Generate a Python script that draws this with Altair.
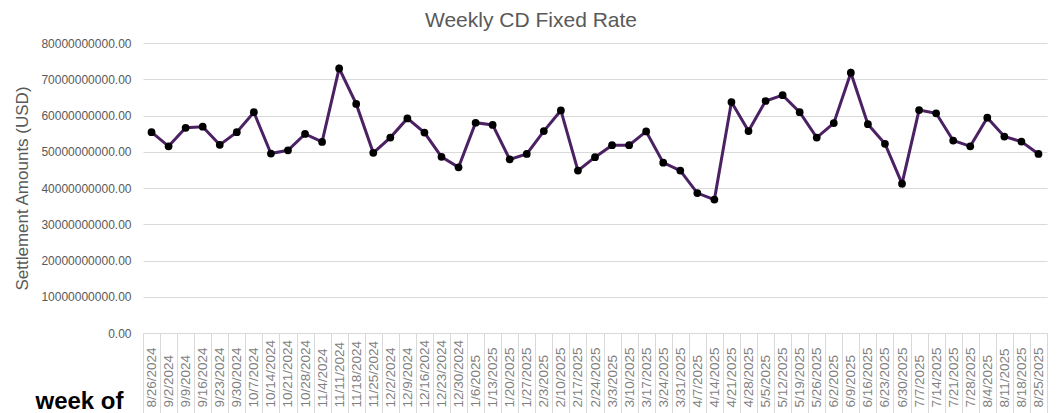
import altair as alt
import pandas as pd

chart_title = "Weekly CD Fixed Rate"

weeks = [
    "8/26/2024", "9/2/2024", "9/9/2024", "9/16/2024", "9/23/2024", "9/30/2024",
    "10/7/2024", "10/14/2024", "10/21/2024", "10/28/2024", "11/4/2024", "11/11/2024",
    "11/18/2024", "11/25/2024", "12/2/2024", "12/9/2024", "12/16/2024", "12/23/2024",
    "12/30/2024", "1/6/2025", "1/13/2025", "1/20/2025", "1/27/2025", "2/3/2025",
    "2/10/2025", "2/17/2025", "2/24/2025", "3/3/2025", "3/10/2025", "3/17/2025",
    "3/24/2025", "3/31/2025", "4/7/2025", "4/14/2025", "4/21/2025", "4/28/2025",
    "5/5/2025", "5/12/2025", "5/19/2025", "5/26/2025", "6/2/2025", "6/9/2025",
    "6/16/2025", "6/23/2025", "6/30/2025", "7/7/2025", "7/14/2025", "7/21/2025",
    "7/28/2025", "8/4/2025", "8/11/2025", "8/18/2025", "8/25/2025",
]

settlement_billions = [
    55.4, 51.5, 56.6, 56.9, 51.9, 55.4, 60.9, 49.5, 50.4, 54.9, 52.7, 73.0,
    63.2, 49.7, 53.9, 59.2, 55.3, 48.6, 45.7, 58.0, 57.4, 47.9, 49.4, 55.7,
    61.4, 44.8, 48.5, 51.8, 51.8, 55.6, 47.0, 44.8, 38.6, 36.8, 63.7, 55.7,
    64.0, 65.6, 60.9, 53.9, 57.9, 71.8, 57.6, 52.2, 41.2, 61.5, 60.6, 53.1,
    51.5, 59.4, 54.2, 52.8, 49.4,
]

df = pd.DataFrame({
    "week": weeks,
    "amount": [v * 1e9 for v in settlement_billions],
})
title_df = pd.DataFrame({"title": [chart_title]})

x_enc = alt.X(
    "week:O",
    sort=None,
    scale=alt.Scale(type="band", paddingInner=0, paddingOuter=0),
    axis=alt.Axis(
        title="week of",
        titleFont="Liberation Sans",
        titleFontSize=24,
        titleFontWeight="bold",
        titleColor="#000000",
        titleX=-64,
        titleY=75,
        titleAlign="center",
        titleBaseline="alphabetic",
        labelAngle=-90,
        labelAlign="left",
        labelBaseline="middle",
        labelPadding=-6,
        labelFont="Liberation Sans",
        labelFontSize=13.5,
        labelColor="#7f7f7f",
        labelOverlap=False,
        ticks=True,
        tickBand="extent",
        tickSize=80,
        tickColor="#d9d9d9",
        domain=True,
        domainColor="#d9d9d9",
        grid=False,
    ),
)

y_enc = alt.Y(
    "amount:Q",
    scale=alt.Scale(domain=[0, 80e9], nice=False),
    axis=alt.Axis(
        title="Settlement Amounts (USD)",
        titleFont="Liberation Sans",
        titleFontSize=17,
        titleFontWeight="normal",
        titleColor="#595959",
        titleX=-116,
        titleY=145,
        titleAngle=-90,
        titleAlign="center",
        titleBaseline="alphabetic",
        format=".2f",
        values=[i * 1e10 for i in range(9)],
        labelFont="Liberation Sans",
        labelFontSize=12,
        labelColor="#595959",
        labelPadding=12,
        ticks=False,
        domain=False,
        grid=True,
        gridColor="#d9d9d9",
        gridWidth=1,
    ),
)

base = alt.Chart(df)

line = base.mark_line(color="#4b2163", strokeWidth=3).encode(x=x_enc, y=y_enc)
points = base.mark_circle(color="#000000", opacity=1, size=60).encode(x=x_enc, y=y_enc)

title_text = alt.Chart(title_df).mark_text(
    font="Liberation Sans",
    fontSize=21,
    color="#595959",
    align="center",
    baseline="alphabetic",
).encode(
    text="title:N",
    x=alt.value(388),
    y=alt.value(-16),
)

chart = (
    alt.layer(line, points, title_text)
    .properties(
        width=904,
        height=290,
        autosize=alt.AutoSizeParams(type="none"),
        padding={"left": 135, "top": 35, "right": 2, "bottom": 80},
        background="#ffffff",
    )
    .configure_view(stroke=None)
)

chart.save("out.html", embed_options={"renderer": "svg", "actions": False})
